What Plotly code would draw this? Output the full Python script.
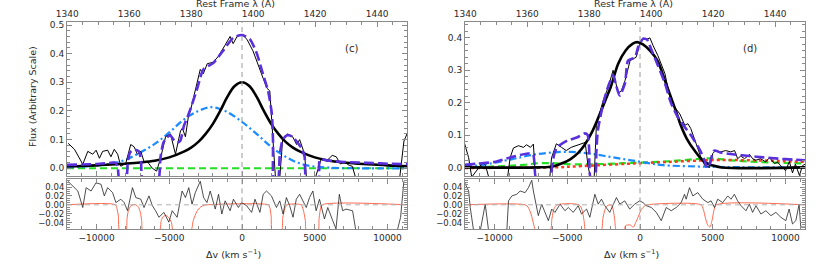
import plotly.graph_objects as go

# ---------------- constants ----------------
C_KMS = 299792.458
LAMBDA0 = 1396.8                      # rest wavelength at dv = 0 (Angstrom)
V_RANGE = [-12030, 11340]             # km/s
LAM_LO = 1339.95
V_TICK_STEP = 5000
LAM_TICK_STEP = 20

MAIN_C_RANGE = [-0.027, 0.5105]
MAIN_D_RANGE = [-0.0265, 0.449]
RES_RANGE = [-0.055, 0.058]

# ---------------- panel (c) ----------------
obs_c = [(-11950, 0.087), (-11515, 0.066), (-10945, 0.014), (-10600, 0.059), (-10260, 0.049),
         (-10030, 0.063), (-9800, 0.035), (-9580, 0.059), (-9235, 0.063), (-9010, 0.04),
         (-8780, 0.066), (-8550, 0.049), (-8330, 0.007), (-7990, 0.017), (-7650, 0.083),
         (-7420, 0.075), (-7190, 0.049), (-6960, 0.059), (-6740, 0.024), (-6460, 0.02),
         (-6165, 0.0), (-5870, -0.01), (-5600, 0.035), (-5255, 0.11), (-4915, 0.12),
         (-4575, 0.049), (-4230, 0.13), (-4100, 0.14), (-3890, 0.11), (-3660, 0.19),
         (-3550, 0.20), (-3200, 0.28), (-2870, 0.345), (-2660, 0.33), (-2390, 0.365),
         (-1980, 0.37), (-1640, 0.39), (-1160, 0.43), (-820, 0.46), (-610, 0.435),
         (-340, 0.46), (0, 0.467), (340, 0.45), (750, 0.41), (1090, 0.365), (1430, 0.315),
         (1700, 0.28), (1910, 0.27), (2050, 0.165), (2120, 0.09), (2320, -0.05), (2600, -0.03),
         (2800, 0.105), (3140, 0.12), (3480, 0.11), (3750, 0.083), (3960, 0.10), (4300, 0.05),
         (4440, -0.04), (5000, -0.04), (5460, 0.035), (5800, 0.025), (6200, 0.045), (6480, 0.04),
         (6760, 0.015), (7030, 0.022), (7370, 0.01), (7580, 0.007), (7850, -0.04), (9000, -0.05),
         (10000, -0.05), (10800, -0.05), (11130, 0.095), (11340, 0.12)]

total_c = [(-12030, 0.012), (-11000, 0.013), (-10000, 0.015), (-9000, 0.019), (-8700, 0.02),
           (-8550, 0.005), (-8400, -0.05), (-8000, -0.05), (-7850, 0.02), (-7700, 0.055),
           (-7400, 0.065), (-7100, 0.06), (-6950, 0.03), (-6800, -0.05), (-5800, -0.05),
           (-5600, 0.04), (-5400, 0.09), (-5200, 0.105), (-4950, 0.115), (-4700, 0.10),
           (-4450, 0.09), (-4250, 0.095), (-4000, 0.147), (-3700, 0.185), (-3550, 0.206),
           (-3070, 0.28), (-2660, 0.345), (-1980, 0.367), (-1300, 0.41), (-610, 0.455),
           (0, 0.465), (550, 0.45), (1020, 0.40), (1430, 0.33), (1790, 0.27), (2050, 0.19),
           (2130, 0.095), (2200, -0.05), (2450, -0.05), (2600, 0.05), (2800, 0.10),
           (3100, 0.115), (3500, 0.11), (3800, 0.09), (4100, 0.07), (4300, 0.04), (4450, -0.05),
           (5250, -0.05), (5350, 0.03), (6000, 0.026), (7000, 0.022), (8000, 0.02),
           (9000, 0.018), (10000, 0.016), (11340, 0.014)]

narrow_c = [(-12030, 0.007), (-11000, 0.008), (-10000, 0.010), (-9000, 0.013), (-8000, 0.016),
            (-7000, 0.020), (-6000, 0.026), (-5000, 0.038), (-4000, 0.058), (-3500, 0.072),
            (-3000, 0.092), (-2500, 0.12), (-2000, 0.155), (-1500, 0.20), (-1000, 0.25),
            (-500, 0.287), (0, 0.30), (500, 0.287), (1000, 0.25), (1500, 0.20), (2000, 0.155),
            (2500, 0.12), (3000, 0.092), (3500, 0.072), (4000, 0.058), (5000, 0.038),
            (6000, 0.026), (7000, 0.020), (8000, 0.016), (9000, 0.013), (10000, 0.010),
            (11000, 0.008), (11340, 0.007)]

broad_c = [(-12030, 0.003), (-11000, 0.006), (-10000, 0.010), (-9000, 0.016), (-8000, 0.03),
           (-7000, 0.055), (-6000, 0.085), (-5000, 0.125), (-4000, 0.17), (-3000, 0.20),
           (-2200, 0.213), (-1500, 0.207), (-1000, 0.196), (0, 0.162), (1000, 0.12),
           (2000, 0.075), (3000, 0.04), (4000, 0.016), (5000, 0.006), (6000, 0.002),
           (8000, 0.0), (11340, 0.0)]

cont_c = [(-12030, 0.0), (11340, 0.0)]

resid_c = [(-11970, 0.053), (-11285, 0.031), (-10945, -0.006), (-10715, 0.0385), (-10375, 0.031),
           (-10035, 0.0496), (-9690, 0.046), (-9465, 0.02), (-9240, 0.0385), (-8895, 0.0274),
           (-8670, 0.005), (-8330, 0.0126), (-8100, 0.005), (-7870, -0.0133), (-7530, 0.0385),
           (-7300, 0.0163), (-6960, 0.0126), (-6735, -0.006), (-6395, 0.02), (-6165, -0.002),
           (-5940, -0.0133), (-5710, -0.028), (-5370, -0.017), (-5030, -0.039), (-4800, -0.0133),
           (-4460, -0.028), (-4120, 0.031), (-3890, 0.0163), (-3660, 0.0385), (-3435, 0.0015),
           (-3210, 0.0274), (-2870, 0.053), (-2640, 0.0163), (-2410, 0.005), (-2185, 0.031),
           (-1840, -0.0096), (-1615, 0.0237), (-1390, -0.0207), (-1160, 0.0089), (-820, -0.0133),
           (-590, 0.0126), (-250, -0.006), (-25, 0.005), (320, -0.002), (660, -0.017),
           (890, 0.0126), (1230, -0.017), (1455, 0.0237), (1685, 0.031), (2025, 0.02),
           (2365, -0.006), (2595, 0.0089), (2820, -0.0207), (3050, 0.0163), (3275, -0.002),
           (3505, -0.028), (3730, 0.0126), (3960, 0.0237), (4185, 0.0089), (4415, -0.006),
           (4640, 0.0163), (4870, 0.031), (5095, -0.0133), (5325, 0.0126), (5665, -0.0318),
           (5895, -0.006), (6235, -0.0356), (6460, -0.054), (6690, 0.0237), (6915, -0.0133),
           (7145, -0.0096), (7600, -0.0133), (7825, -0.058), (10670, -0.058), (10900, -0.028),
           (11125, 0.053)]

absorb_c = [(-12030, 0), (-8700, 0), (-8600, -0.008), (-8500, -0.025), (-8400, -0.06),
            (-8000, -0.06), (-7900, -0.03), (-7800, -0.012), (-7650, -0.003), (-7500, 0),
            (-7300, 0), (-7150, -0.004), (-7000, -0.015), (-6900, -0.035), (-6800, -0.06),
            (-5700, -0.06), (-5550, -0.035), (-5400, -0.026), (-5250, -0.024), (-5050, -0.028),
            (-4850, -0.04), (-4700, -0.06), (-3550, -0.06), (-3350, -0.035), (-3100, -0.015),
            (-2850, -0.005), (-2600, -0.001), (-2400, 0), (1800, 0), (1900, -0.005),
            (2000, -0.025), (2100, -0.06), (2700, -0.06), (2800, -0.03), (2950, -0.008),
            (3100, 0), (4050, 0), (4200, -0.01), (4350, -0.035), (4450, -0.06), (5200, -0.06),
            (5300, -0.03), (5400, -0.008), (5500, 0), (11340, 0)]

# ---------------- panel (d) ----------------
obs_d = [(-12100, 0.08), (-11780, 0.03), (-11570, -0.03), (-11100, 0.0), (-10800, 0.016),
         (-10620, 0.006), (-10400, -0.03), (-9100, -0.03), (-8930, 0.03), (-8700, 0.06),
         (-8360, 0.067), (-8010, 0.062), (-7800, 0.07), (-7530, 0.062), (-7330, 0.072),
         (-7190, -0.03), (-6200, -0.03), (-6080, 0.03), (-5750, 0.073), (-5400, 0.062),
         (-5070, 0.052), (-4730, 0.062), (-4380, 0.068), (-4040, 0.073), (-3770, 0.077),
         (-3560, 0.0), (-3400, -0.03), (-3150, -0.03), (-3000, 0.13), (-2530, 0.207),
         (-2190, 0.247), (-1850, 0.30), (-1710, 0.27), (-1510, 0.23), (-1300, 0.235),
         (-1030, 0.268), (-680, 0.33), (-480, 0.335), (-270, 0.34), (0, 0.382), (200, 0.40),
         (430, 0.395), (680, 0.40), (890, 0.377), (1230, 0.345), (1710, 0.29), (2050, 0.217),
         (2400, 0.185), (2740, 0.165), (3080, 0.13), (3290, 0.135), (3490, 0.12), (3840, 0.073),
         (4180, 0.032), (4450, 0.006), (4790, 0.0), (5000, 0.043), (5200, 0.052), (5550, 0.048),
         (5890, 0.052), (6230, 0.048), (6500, 0.052), (6710, 0.027), (6920, 0.035),
         (7190, 0.027), (7530, 0.04), (7740, 0.027), (7950, 0.022), (8290, 0.027),
         (8630, 0.017), (8900, 0.03), (9250, 0.012), (9450, 0.016), (9790, 0.0),
         (10000, -0.01), (10270, 0.018), (10480, -0.017), (10680, 0.01), (10960, -0.025),
         (11160, 0.005), (11340, 0.01)]

total_d = [(-12030, 0.008), (-11100, 0.012), (-10000, 0.017), (-8900, 0.031), (-7700, 0.043),
           (-7350, 0.04), (-7250, 0.01), (-7150, -0.03), (-6150, -0.03), (-6050, 0.0),
           (-5900, 0.04), (-5700, 0.062), (-5000, 0.083), (-4300, 0.093), (-3800, 0.105),
           (-3600, 0.10), (-3500, 0.06), (-3400, -0.03), (-3100, -0.03), (-3000, 0.05),
           (-2900, 0.114), (-2530, 0.197), (-2190, 0.25), (-1850, 0.285), (-1650, 0.255),
           (-1400, 0.222), (-1030, 0.26), (-820, 0.33), (-340, 0.34), (-140, 0.37),
           (200, 0.397), (480, 0.395), (750, 0.367), (1230, 0.315), (1710, 0.26), (2120, 0.20),
           (2600, 0.155), (3080, 0.124), (3490, 0.10), (4100, 0.055), (4450, 0.02),
           (4600, 0.0), (4750, 0.005), (4900, 0.03), (5100, 0.052), (5600, 0.045),
           (6500, 0.04), (7500, 0.035), (8500, 0.031), (9500, 0.027), (10500, 0.024),
           (11340, 0.022)]

narrow_d = [(-12030, 0.0), (-7000, 0.0), (-6000, 0.003), (-5400, 0.012), (-4800, 0.025),
            (-4250, 0.045), (-3800, 0.07), (-3350, 0.105), (-2900, 0.15), (-2400, 0.205),
            (-2000, 0.25), (-1500, 0.32), (-1000, 0.36), (-500, 0.382), (-200, 0.387),
            (200, 0.38), (700, 0.36), (1200, 0.33), (1700, 0.27), (2100, 0.22), (2500, 0.17),
            (2800, 0.13), (3200, 0.09), (3750, 0.052), (4400, 0.018), (5000, 0.006),
            (5600, 0.0), (11340, 0.0)]

broad_d = [(-12030, 0.004), (-11100, 0.006), (-8840, 0.025), (-7470, 0.038), (-6100, 0.046),
           (-4730, 0.048), (-3360, 0.042), (-1990, 0.032), (-620, 0.022), (750, 0.012),
           (1580, 0.007), (3840, 0.003), (6000, 0.001), (11340, 0.0)]

green_d = [(-12030, 0.0), (-10000, 0.003), (-8000, 0.008), (-7000, 0.013), (-6000, 0.013),
           (-5000, 0.01), (-3000, 0.01), (-1000, 0.013), (0, 0.015), (2000, 0.019),
           (3700, 0.025), (4800, 0.028), (6000, 0.023), (8000, 0.017), (10000, 0.014),
           (11340, 0.012)]

red_d = [(-12030, -0.002), (-9000, -0.001), (-6000, 0.0), (-4000, 0.004), (-1000, 0.011),
         (0, 0.013), (2000, 0.017), (4000, 0.021), (5500, 0.023), (7500, 0.022),
         (9500, 0.02), (11340, 0.017)]

resid_d = [(-12100, 0.053), (-11780, 0.031), (-11670, -0.006), (-11440, -0.058), (-10980, -0.058),
           (-10640, 0.0015), (-10410, -0.058), (-9155, -0.058), (-9040, 0.0089), (-8810, 0.02),
           (-8470, 0.0237), (-8240, 0.031), (-7900, 0.0274), (-7670, 0.0385), (-7440, 0.055),
           (-7330, 0.031), (-6990, -0.0244), (-6760, 0.0015), (-6530, -0.017), (-6300, -0.0356),
           (-6070, -0.0096), (-5845, -0.017), (-5500, 0.0015), (-5160, -0.0133), (-4930, -0.006),
           (-4590, -0.017), (-4250, -0.002), (-4020, -0.0207), (-3675, -0.0096), (-3450, -0.028),
           (-3105, 0.0237), (-2875, 0.0015), (-2650, 0.0126), (-2420, -0.002), (-2080, -0.017),
           (-1850, -0.002), (-1620, 0.0163), (-1390, 0.0015), (-1050, 0.0089), (-710, -0.0096),
           (-365, 0.0015), (-25, 0.0089), (205, 0.005), (435, -0.002), (775, -0.006),
           (1120, -0.017), (1460, -0.0356), (1800, -0.006), (2145, -0.0133), (2490, -0.006),
           (2830, 0.005), (3060, 0.0237), (3175, 0.0126), (3400, 0.0385), (3630, 0.02),
           (3970, 0.0274), (4315, 0.0126), (4660, 0.005), (4885, 0.0089), (5115, -0.006),
           (5340, 0.0126), (5685, 0.005), (6030, 0.02), (6255, 0.0126), (6485, 0.0237),
           (6710, 0.0089), (6940, -0.002), (7285, -0.0133), (7510, 0.0015), (7740, -0.017),
           (7970, -0.002), (8310, -0.0207), (8650, -0.0133), (8995, -0.0244), (9340, -0.017),
           (9680, -0.028), (10020, -0.0356), (10250, -0.0096), (10480, -0.043), (10710, -0.0356),
           (10935, 0.0015), (11050, -0.05), (11340, -0.05)]

absorb_d = [(-12030, 0), (-7900, 0), (-7700, -0.005), (-7500, -0.02), (-7300, -0.045),
            (-7150, -0.06), (-6200, -0.06), (-6050, -0.03), (-5900, -0.008), (-5700, 0),
            (-4200, 0), (-4000, -0.01), (-3850, -0.035), (-3700, -0.06), (-2700, -0.06),
            (-2550, -0.03), (-2400, -0.01), (-2250, -0.002), (-2050, 0), (-1900, -0.005),
            (-1750, -0.03), (-1600, -0.06), (-1100, -0.06), (-1000, -0.047), (-700, -0.045),
            (-450, -0.05), (-300, -0.04), (-100, -0.025), (100, -0.01), (300, -0.003),
            (500, 0), (4200, 0), (4350, -0.01), (4500, -0.03), (4650, -0.045), (4800, -0.05),
            (4950, -0.035), (5100, -0.01), (5250, 0), (11340, 0)]

PANEL_LABELS = ["(c)", "(d)"]
Y_TITLE = "Flux (Arbitrary Scale)"
TOP_TITLE = "Rest Frame λ (A)"
BOTTOM_TITLE = "Δv (km s<sup>−1</sup>)"

# ---------------- styling / layout ----------------
W, H = 830, 277
AX = "#8a8a8a"
TXT = "#2a2a2a"
FONT = "DejaVu Sans"
PURPLE = "#5a2fdc"
BLUE = "#1a8cff"
GREEN = "#22e022"
RED_DOT = "#ff3b1f"
RED_RES = "#ff6a50"


def xs(pairs):
    return [p[0] for p in pairs]


def ys(pairs):
    return [p[1] for p in pairs]


def lam(v):
    return LAMBDA0 * (1 + v / C_KMS)


def xd(a, b):
    return [a / W, b / W]


def yd(top, bot):
    return [1 - bot / H, 1 - top / H]


def axname(a):
    return ("xaxis" if a[0] == "x" else "yaxis") + a[1:]


fig = go.Figure()

panels = [
    dict(px=(67, 407), main=MAIN_C_RANGE, obs=obs_c, total=total_c, narrow=narrow_c,
         broad=broad_c, extra=[(cont_c, GREEN, "7px,4px", 2.2)], resid=resid_c,
         absorb=absorb_c, ax=("x", "y", "x2", "y2", "x3"), label=PANEL_LABELS[0],
         label_pos=(351, 49)),
    dict(px=(465, 805), main=MAIN_D_RANGE, obs=obs_d, total=total_d, narrow=narrow_d,
         broad=broad_d, extra=[(green_d, GREEN, "7px,4px", 2.2),
                               (red_d, RED_DOT, "dot", 2.5)],
         resid=resid_d, absorb=absorb_d, ax=("x4", "y3", "x5", "y4", "x6"),
         label=PANEL_LABELS[1], label_pos=(750, 48)),
]

MAIN_TOP, MAIN_BOT = 22, 176
RES_TOP, RES_BOT = 179, 229.3

common_tick = dict(ticks="inside", tickcolor=AX, showline=True, linecolor=AX, linewidth=1,
                   showgrid=False, zeroline=False, automargin=False,
                   tickfont=dict(family=FONT, size=9, color=TXT))

layout_axes = {}
annotations = []
shapes = []

for i, p in enumerate(panels):
    xr, yr, xm, ym, xt = p["ax"]
    dom_x = xd(*p["px"])
    for pairs, color, dash, wdt in p["extra"]:
        fig.add_trace(go.Scatter(x=xs(pairs), y=ys(pairs), mode="lines", xaxis=xm, yaxis=ym,
                                 line=dict(color=color, dash=dash, width=wdt, shape="spline",
                                           smoothing=1.0), showlegend=False))
    fig.add_trace(go.Scatter(x=xs(p["broad"]), y=ys(p["broad"]), mode="lines", xaxis=xm, yaxis=ym,
                             line=dict(color=BLUE, dash="7px,3px,2px,3px", width=2.2,
                                       shape="spline", smoothing=1.0), showlegend=False))
    fig.add_trace(go.Scatter(x=xs(p["obs"]), y=ys(p["obs"]), mode="lines", xaxis=xm, yaxis=ym,
                             line=dict(color="#000000", width=1), showlegend=False))
    fig.add_trace(go.Scatter(x=xs(p["narrow"]), y=ys(p["narrow"]), mode="lines", xaxis=xm, yaxis=ym,
                             line=dict(color="#000000", width=2.6, shape="spline", smoothing=1.0),
                             showlegend=False))
    fig.add_trace(go.Scatter(x=xs(p["total"]), y=ys(p["total"]), mode="lines", xaxis=xm, yaxis=ym,
                             line=dict(color=PURPLE, dash="10px,4px", width=2.6, shape="spline",
                                       smoothing=0.6), showlegend=False))
    fig.add_trace(go.Scatter(x=[lam(v) for v in xs(p["obs"])], y=ys(p["obs"]), mode="lines",
                             xaxis=xt, yaxis=ym, line=dict(width=0, color="rgba(0,0,0,0)"),
                             opacity=0, hoverinfo="skip", showlegend=False))
    fig.add_trace(go.Scatter(x=xs(p["absorb"]), y=ys(p["absorb"]), mode="lines", xaxis=xr, yaxis=yr,
                             line=dict(color=RED_RES, width=1, shape="spline", smoothing=0.8),
                             showlegend=False))
    fig.add_trace(go.Scatter(x=xs(p["resid"]), y=ys(p["resid"]), mode="lines", xaxis=xr, yaxis=yr,
                             line=dict(color="#222222", width=0.8), showlegend=False))

    layout_axes[axname(xr)] = dict(common_tick, domain=dom_x, anchor=yr, range=V_RANGE,
                                   tickmode="linear", tick0=0, dtick=V_TICK_STEP, tickformat="d",
                                   ticklen=5, mirror="ticks",
                                   minor=dict(ticks="inside", ticklen=3, dtick=1000, tickcolor=AX))
    layout_axes[axname(yr)] = dict(common_tick, domain=yd(RES_TOP, RES_BOT), anchor=xr,
                                   range=RES_RANGE, tickmode="linear", tick0=0, dtick=0.02,
                                   tickformat=".2f", ticklen=5, mirror="ticks",
                                   tickfont=dict(family=FONT, size=8.5, color=TXT),
                                   minor=dict(ticks="inside", ticklen=3, dtick=0.005, tickcolor=AX))
    layout_axes[axname(xm)] = dict(common_tick, domain=dom_x, anchor=ym, range=V_RANGE,
                                   tickmode="linear", tick0=0, dtick=V_TICK_STEP, ticklen=5,
                                   showticklabels=False,
                                   minor=dict(ticks="inside", ticklen=3, dtick=1000, tickcolor=AX))
    layout_axes[axname(ym)] = dict(common_tick, domain=yd(MAIN_TOP, MAIN_BOT), anchor=xm,
                                   range=p["main"], tickmode="linear", tick0=0, dtick=0.1,
                                   tickformat=".1f", ticklen=5, mirror="ticks",
                                   minor=dict(ticks="inside", ticklen=3, dtick=0.02, tickcolor=AX))
    layout_axes[axname(xt)] = dict(common_tick, domain=dom_x, anchor=ym, overlaying=xm, side="top",
                                   range=[LAM_LO, lam(V_RANGE[1])], tickmode="linear", tick0=1340,
                                   dtick=LAM_TICK_STEP, ticklen=5,
                                   minor=dict(ticks="inside", ticklen=3, dtick=5, tickcolor=AX))

    shapes.append(dict(type="line", xref=xm, yref=f"{ym} domain", x0=0, x1=0, y0=0, y1=1,
                       line=dict(color="#9a9a9a", width=1, dash="5px,4px"), layer="above"))
    shapes.append(dict(type="line", xref=xr, yref=f"{yr} domain", x0=0, x1=0, y0=0, y1=1,
                       line=dict(color="#9a9a9a", width=1, dash="5px,4px"), layer="above"))
    shapes.append(dict(type="line", xref=f"{xr} domain", yref=yr, x0=0, x1=1, y0=0, y1=0,
                       line=dict(color="#b0b0b0", width=1, dash="5px,4px"), layer="above"))

    cx = (p["px"][0] + p["px"][1]) / 2
    annotations.append(dict(text=p["label"], x=p["label_pos"][0] / W, y=1 - p["label_pos"][1] / H,
                            xref="paper", yref="paper", showarrow=False, xanchor="center",
                            yanchor="middle", font=dict(family=FONT, size=10, color=TXT)))
    annotations.append(dict(text=TOP_TITLE, x=(cx - 2) / W, y=1 - 4 / H, xref="paper",
                            yref="paper", showarrow=False, xanchor="center", yanchor="middle",
                            font=dict(family=FONT, size=9.5, color=TXT)))
    annotations.append(dict(text=BOTTOM_TITLE, x=(cx - 4) / W, y=1 - 254 / H, xref="paper",
                            yref="paper", showarrow=False, xanchor="center", yanchor="middle",
                            font=dict(family=FONT, size=9.5, color=TXT)))

annotations.append(dict(text=Y_TITLE, x=32 / W, y=1 - 97 / H, xref="paper", yref="paper",
                        showarrow=False, textangle=-90, xanchor="center", yanchor="middle",
                        font=dict(family=FONT, size=9.5, color=TXT)))

fig.update_layout(width=W, height=H, margin=dict(l=0, r=0, t=0, b=0),
                  paper_bgcolor="white", plot_bgcolor="white", showlegend=False,
                  annotations=annotations, shapes=shapes, **layout_axes)

fig.write_html("out.html", config={"displayModeBar": False},
               post_script="document.body.style.margin='0px';")
